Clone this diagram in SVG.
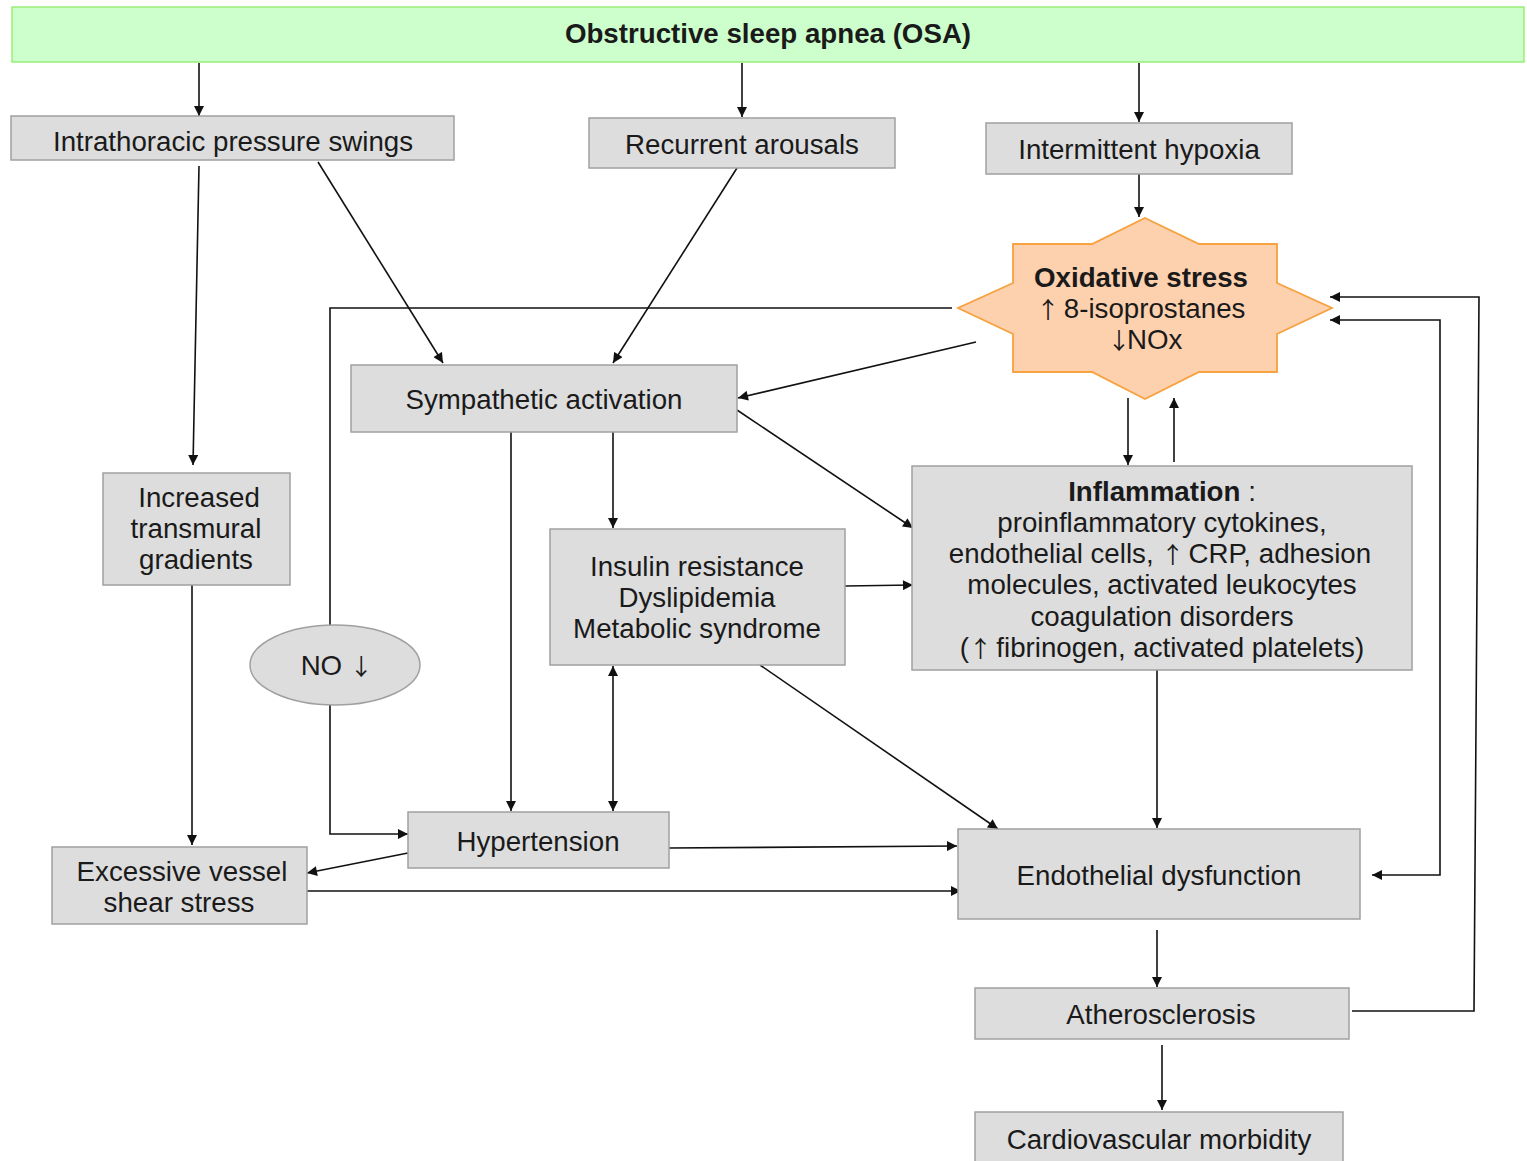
<svg xmlns="http://www.w3.org/2000/svg" width="1527" height="1161" viewBox="0 0 1527 1161">
<style>
.box{fill:#dddddd;stroke:#a0a0a0;stroke-width:1.5}
.t{font-family:"Liberation Sans",Arial,sans-serif;font-size:27.7px;fill:#1a1a1a;text-anchor:middle}
.b{font-weight:bold}
.ar{font-family:"Noto Sans CJK JP",sans-serif;font-weight:normal;font-size:23px;letter-spacing:-3.5px;fill:#1a1a1a}
.c{fill:none;stroke:#111111;stroke-width:1.6}
</style>
<defs>
<marker id="ah" viewBox="0 0 10 10" refX="10" refY="5" markerWidth="11" markerHeight="10" markerUnits="userSpaceOnUse" orient="auto-start-reverse">
<path d="M0,0 L10,5 L0,10 z" fill="#111111"/>
</marker>
</defs>
<rect width="1527" height="1161" fill="#ffffff"/>
<g id="connectors">
<line class="c" x1="199" y1="63" x2="199" y2="116" marker-end="url(#ah)"/>
<line class="c" x1="742" y1="63" x2="742" y2="117" marker-end="url(#ah)"/>
<line class="c" x1="1139" y1="63" x2="1139" y2="122" marker-end="url(#ah)"/>
<line class="c" x1="1139" y1="174" x2="1139" y2="217" marker-end="url(#ah)"/>
<line class="c" x1="199" y1="166" x2="193" y2="465" marker-end="url(#ah)"/>
<line class="c" x1="318" y1="162" x2="443" y2="363" marker-end="url(#ah)"/>
<line class="c" x1="737" y1="168" x2="613" y2="363" marker-end="url(#ah)"/>
<line class="c" x1="976" y1="342" x2="738" y2="398" marker-end="url(#ah)"/>
<polyline class="c" points="952,308 330,308 330,625"/>
<polyline class="c" points="330,705 330,834 408,834" marker-end="url(#ah)"/>
<line class="c" x1="511" y1="432" x2="511" y2="811" marker-end="url(#ah)"/>
<line class="c" x1="613" y1="432" x2="613" y2="528" marker-end="url(#ah)"/>
<line class="c" x1="737" y1="410" x2="913" y2="528" marker-end="url(#ah)"/>
<line class="c" x1="845" y1="586" x2="913" y2="585" marker-end="url(#ah)"/>
<line class="c" x1="613" y1="666" x2="613" y2="811" marker-start="url(#ah)" marker-end="url(#ah)"/>
<line class="c" x1="760" y1="665" x2="998" y2="829" marker-end="url(#ah)"/>
<line class="c" x1="1128" y1="398" x2="1128" y2="465" marker-end="url(#ah)"/>
<line class="c" x1="1174" y1="462" x2="1174" y2="398" marker-end="url(#ah)"/>
<line class="c" x1="1157" y1="670" x2="1157" y2="828" marker-end="url(#ah)"/>
<line class="c" x1="192" y1="585" x2="192" y2="845" marker-end="url(#ah)"/>
<line class="c" x1="408" y1="853" x2="307" y2="873" marker-end="url(#ah)"/>
<line class="c" x1="669" y1="848" x2="957" y2="846" marker-end="url(#ah)"/>
<line class="c" x1="307" y1="891" x2="961" y2="891" marker-end="url(#ah)"/>
<polyline class="c" points="1372,875 1440,875 1440,320 1330,320" marker-start="url(#ah)" marker-end="url(#ah)"/>
<polyline class="c" points="1352,1011 1474,1011 1479,297 1330,297" marker-end="url(#ah)"/>
<line class="c" x1="1157" y1="930" x2="1157" y2="987" marker-end="url(#ah)"/>
<line class="c" x1="1162" y1="1045" x2="1162" y2="1110" marker-end="url(#ah)"/>
</g>
<g id="osa">
<rect x="12" y="7" width="1512" height="55" fill="#ccffcc" stroke="#99ee77" stroke-width="1.5"/>
<text class="t b" x="768" y="43">Obstructive sleep apnea (OSA)</text>
</g>
<g id="intrathoracic">
<rect class="box" x="11" y="116" width="443" height="44"/>
<text class="t" x="233" y="151">Intrathoracic pressure swings</text>
</g>
<g id="arousals">
<rect class="box" x="589" y="118" width="306" height="50"/>
<text class="t" x="742" y="154">Recurrent arousals</text>
</g>
<g id="hypoxia">
<rect class="box" x="986" y="123" width="306" height="51"/>
<text class="t" x="1139" y="159">Intermittent hypoxia</text>
</g>
<g id="oxidative">
<polygon points="1145,218 1199,244 1277,244 1277,283 1332,308 1277,334 1277,372 1199,372 1145,399 1092,372 1013,372 1013,334 958,308 1013,283 1013,244 1092,244" fill="#fdd0ae" stroke="#f7a13f" stroke-width="1.8"/>
<text class="t" x="1141" y="287"><tspan class="b">Oxidative stress</tspan></text>
<text class="t" x="1141" y="318"><tspan class="ar">↑</tspan> 8-isoprostanes</text>
<text class="t" x="1145" y="349"><tspan class="ar">↓</tspan>NOx</text>
</g>
<g id="sympathetic">
<rect class="box" x="351" y="365" width="386" height="67"/>
<text class="t" x="544" y="409">Sympathetic activation</text>
</g>
<g id="transmural">
<rect class="box" x="103" y="473" width="187" height="112"/>
<text class="t" x="199" y="507">Increased</text>
<text class="t" x="196" y="538">transmural</text>
<text class="t" x="196" y="569">gradients</text>
</g>
<g id="insulin">
<rect class="box" x="550" y="529" width="295" height="136"/>
<text class="t" x="697" y="576">Insulin resistance</text>
<text class="t" x="697" y="607">Dyslipidemia</text>
<text class="t" x="697" y="638">Metabolic syndrome</text>
</g>
<g id="inflammation">
<rect class="box" x="912" y="466" width="500" height="204"/>
<text class="t" x="1162" y="501"><tspan class="b">Inflammation</tspan> :</text>
<text class="t" x="1162" y="532">proinflammatory cytokines,</text>
<text class="t" x="1160" y="563">endothelial cells, <tspan class="ar">↑</tspan> CRP, adhesion</text>
<text class="t" x="1162" y="594">molecules, activated leukocytes</text>
<text class="t" x="1162" y="626">coagulation disorders</text>
<text class="t" x="1162" y="657">(<tspan class="ar">↑</tspan> fibrinogen, activated platelets)</text>
</g>
<g id="no">
<ellipse cx="335" cy="665" rx="85" ry="40" fill="#dddddd" stroke="#a0a0a0" stroke-width="1.5"/>
<text class="t" x="335" y="675">NO <tspan class="ar">↓</tspan></text>
</g>
<g id="hypertension">
<rect class="box" x="408" y="812" width="261" height="56"/>
<text class="t" x="538" y="851">Hypertension</text>
</g>
<g id="shear">
<rect class="box" x="52" y="847" width="255" height="77"/>
<text class="t" x="182" y="881">Excessive vessel</text>
<text class="t" x="179" y="912">shear stress</text>
</g>
<g id="endothelial">
<rect class="box" x="958" y="829" width="402" height="90"/>
<text class="t" x="1159" y="885">Endothelial dysfunction</text>
</g>
<g id="atherosclerosis">
<rect class="box" x="975" y="988" width="374" height="51"/>
<text class="t" x="1161" y="1024">Atherosclerosis</text>
</g>
<g id="cardiovascular">
<rect class="box" x="975" y="1112" width="368" height="56"/>
<text class="t" x="1159" y="1149">Cardiovascular morbidity</text>
</g>
</svg>
